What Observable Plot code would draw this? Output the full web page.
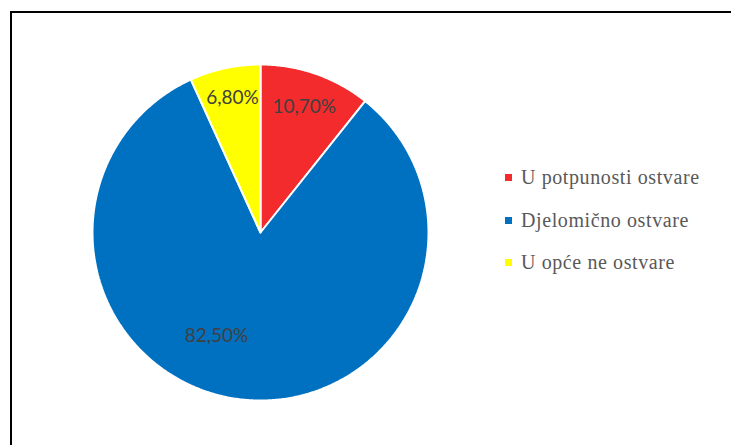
<!DOCTYPE html>
<html>
<head>
<meta charset="utf-8">
<script src="https://cdn.jsdelivr.net/npm/d3@7"></script>
<script src="https://cdn.jsdelivr.net/npm/@observablehq/plot@0.6"></script>
<style>
  html, body { margin: 0; padding: 0; background: #fff; overflow: hidden; }
  #wrap { position: relative; width: 731px; height: 445px; overflow: hidden; }
  #frame { position: absolute; left: 10px; top: 11px; width: 800px; height: 500px; border: 2px solid #000; box-sizing: border-box; }
  #chart { position: absolute; left: 0; top: 0; }
  .lg { position: absolute; left: 505px; font-family: "Liberation Serif", "Times New Roman", serif; font-size: 20px; line-height: 20px; color: #595959; white-space: nowrap; letter-spacing: 0.6px; }
  .lg i { position: absolute; left: 0; width: 7px; height: 7px; }
  .lg span { position: absolute; left: 16px; top: 0; }
</style>
</head>
<body>
<div id="wrap">
  <div id="frame"></div>
  <div id="chart"></div>
</div>
<script>
const categories = ["U potpunosti ostvare", "Djelomično ostvare", "U opće ne ostvare"];
const values = [10.7, 82.5, 6.8];
const labels = ["10,70%", "82,50%", "6,80%"];
const colors = ["#F42B2D", "#0070C0", "#FFFF00"];

// pie geometry in unit coordinates (angle measured clockwise from 12 o'clock)
const total = d3.sum(values);
const slices = [];
let acc = 0;
values.forEach((v, i) => {
  const a0 = acc / total * 2 * Math.PI;
  acc += v;
  const a1 = acc / total * 2 * Math.PI;
  slices.push({cat: categories[i], a0, a1, i});
});

const points = [];
for (const s of slices) {
  points.push({cat: s.cat, x: 0, y: 0});
  const n = Math.max(2, Math.ceil((s.a1 - s.a0) / (Math.PI / 360)));
  for (let k = 0; k <= n; k++) {
    const a = s.a0 + (s.a1 - s.a0) * k / n;
    points.push({cat: s.cat, x: Math.sin(a), y: Math.cos(a)});
  }
  points.push({cat: s.cat, x: 0, y: 0});
}

// label placement (Excel best-fit style): [angle shift in degrees, radius fraction]
const placement = [[0, 0.79], [16, 0.67], [0.5, 0.82]];
const labelData = slices.map(s => {
  const a = (s.a0 + s.a1) / 2 + placement[s.i][0] * Math.PI / 180;
  const r = placement[s.i][1];
  return {x: r * Math.sin(a), y: r * Math.cos(a), text: labels[s.i]};
});

const chart = Plot.plot({
  width: 731,
  height: 445,
  margin: 0,
  x: {domain: [-1, 1], range: [92, 428], axis: null},
  y: {domain: [-1, 1], range: [400, 64], axis: null},
  color: {domain: categories, range: colors},
  marks: [
    Plot.line(points, {x: "x", y: "y", z: "cat", fill: "cat", stroke: "white", strokeWidth: 2, curve: "linear", strokeLinejoin: "miter"}),
    Plot.text(labelData, {x: "x", y: "y", text: "text", fill: "#404040", fontSize: 19, fontFamily: "Lato, sans-serif"})
  ],
  style: {background: "transparent"}
});
document.getElementById("chart").appendChild(chart);

// legend
const wrap = document.getElementById("wrap");
categories.forEach((c, i) => {
  const row = document.createElement("div");
  row.className = "lg";
  row.style.top = (167 + i * 42.5) + "px";
  const sw = document.createElement("i");
  sw.style.background = colors[i];
  sw.style.top = "7px";
  const t = document.createElement("span");
  t.textContent = c;
  row.appendChild(sw);
  row.appendChild(t);
  wrap.appendChild(row);
});
</script>
</body>
</html>
